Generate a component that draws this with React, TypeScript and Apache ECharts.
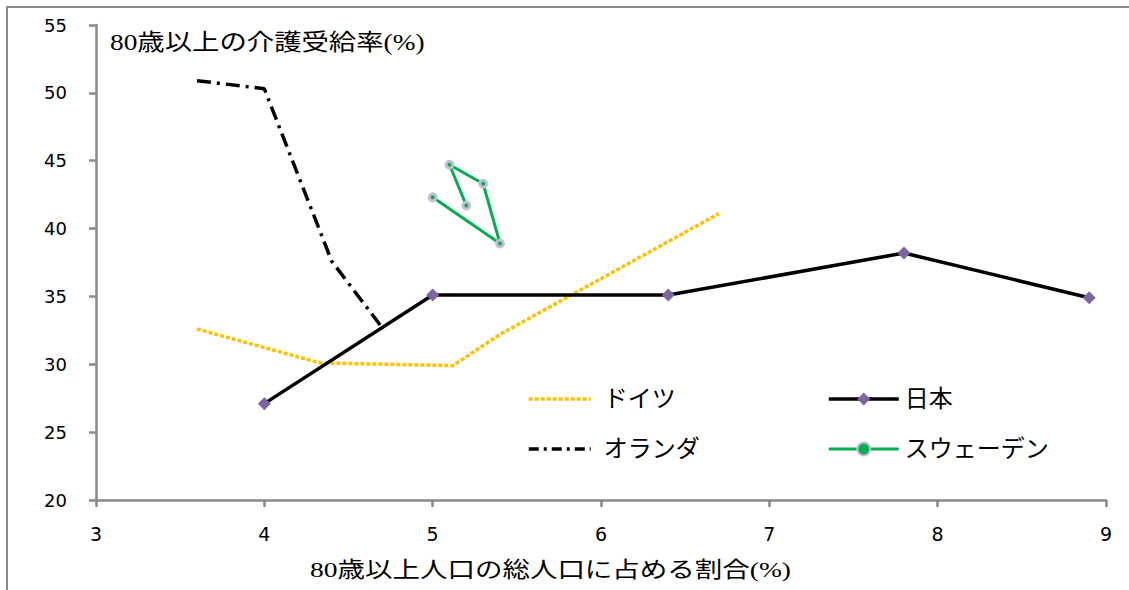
import React, { useEffect, useRef } from "react";
import * as echarts from "echarts";

const seriesNames = ["ドイツ", "日本", "オランダ", "スウェーデン"];
const germanyX = [3.6, 4.33, 5.12, 5.4, 6.7];
const germanyY = [32.6, 30.1, 29.9, 32.2, 41.1];
const japanX = [4.0, 5.0, 6.4, 7.8, 8.9];
const japanY = [27.1, 35.1, 35.1, 38.2, 34.9];
const netherlandsX = [3.6, 4.0, 4.4, 4.7];
const netherlandsY = [50.9, 50.3, 37.6, 32.7];
const swedenX = [5.0, 5.4, 5.3, 5.1, 5.2];
const swedenY = [42.3, 38.9, 43.3, 44.7, 41.7];

const xMin = 3;
const xMax = 9;
const xStep = 1;
const yMin = 20;
const yMax = 55;
const yStep = 5;

const yTitle = "80歳以上の介護受給率(%)";
const xTitle = "80歳以上人口の総人口に占める割合(%)";

const pairs = (xs: number[], ys: number[]) => xs.map((x, i) => [x, ys[i]]);

const JP_FONT = "'Liberation Serif', 'Noto Sans CJK JP', serif";
const NUM_FONT = "'DejaVu Sans', sans-serif";
const AXIS_GRAY = "#898989";

const YELLOW = "#FFC000";
const GREEN = "#00B050";
const PURPLE = "#8064A2";
const LAVENDER = "#C4BED6";

export default function App() {
  const ref = useRef<HTMLDivElement>(null);
  useEffect(() => {
    document.body.style.margin = "0";
    if (!ref.current) return;
    const chart = echarts.init(ref.current, null, { renderer: "svg" });
    const axisCommon = {
      axisLine: { show: true, lineStyle: { color: AXIS_GRAY, width: 2.5 } },
      axisTick: { show: true, length: 7, lineStyle: { color: AXIS_GRAY, width: 2.5 } },
      splitLine: { show: false },
    };
    const legendText = { fontSize: 24, fontFamily: JP_FONT, color: "#000" };
    chart.setOption({
      animation: false,
      backgroundColor: "#ffffff",
      grid: { left: 96, right: 23, top: 25, bottom: 90, containLabel: false },
      xAxis: {
        type: "value",
        min: xMin,
        max: xMax,
        interval: xStep,
        ...axisCommon,
        axisLabel: { color: "#000", fontSize: 19, fontFamily: NUM_FONT, margin: 24 },
      },
      yAxis: {
        type: "value",
        min: yMin,
        max: yMax,
        interval: yStep,
        ...axisCommon,
        axisLabel: { color: "#000", fontSize: 18, fontFamily: NUM_FONT, margin: 29 },
      },
      legend: [
        {
          data: [
            {
              name: seriesNames[0],
              itemStyle: { opacity: 0 },
              lineStyle: { width: 3.5, color: YELLOW, type: [4, 2] },
            },
            {
              name: seriesNames[2],
              itemStyle: { opacity: 0 },
              lineStyle: { width: 3.5, color: "#000", type: [10, 5, 3, 5] },
            },
          ],
          orient: "vertical",
          left: 522,
          top: 382,
          itemWidth: 62,
          itemHeight: 14,
          itemGap: 26,
          textStyle: { ...legendText, padding: [0, 0, 0, 8] },
        },
        {
          data: [
            { name: seriesNames[1], lineStyle: { width: 3.5, color: "#000" } },
            { name: seriesNames[3], lineStyle: { width: 3, color: GREEN } },
          ],
          orient: "vertical",
          left: 822,
          top: 382,
          itemWidth: 70,
          itemHeight: 16,
          itemGap: 26,
          textStyle: { ...legendText, padding: [0, 0, 0, 1] },
        },
      ],
      graphic: [
        {
          type: "rect",
          shape: { x: 7, y: 7, width: 1150, height: 620 },
          style: { fill: "none", stroke: AXIS_GRAY, lineWidth: 2 },
          silent: true,
        },
        {
          type: "text",
          x: 110,
          y: 42,
          scaleX: 1.19,
          style: {
            text: yTitle,
            fontSize: 23,
            fontFamily: JP_FONT,
            fill: "#000",
            verticalAlign: "middle",
            align: "left",
          },
        },
        {
          type: "text",
          x: 310,
          y: 569,
          scaleX: 1.25,
          style: {
            text: xTitle,
            fontSize: 22,
            fontFamily: JP_FONT,
            fill: "#000",
            verticalAlign: "middle",
            align: "left",
          },
        },
      ],
      series: [
        {
          name: seriesNames[0],
          type: "line",
          data: pairs(germanyX, germanyY),
          symbol: "none",
          lineStyle: { color: YELLOW, width: 3.5, type: [4, 2] },
          itemStyle: { color: YELLOW },
          z: 2,
        },
        {
          name: seriesNames[1],
          type: "line",
          data: pairs(japanX, japanY),
          symbol: "diamond",
          symbolSize: 13,
          lineStyle: { color: "#000000", width: 3.5 },
          itemStyle: { color: PURPLE },
          z: 3,
        },
        {
          name: seriesNames[2],
          type: "line",
          data: pairs(netherlandsX, netherlandsY),
          symbol: "none",
          lineStyle: { color: "#000000", width: 3.5, type: [14, 6, 3, 6] },
          itemStyle: { color: "#000000" },
          z: 2,
        },
        {
          name: seriesNames[3],
          type: "line",
          data: pairs(swedenX, swedenY),
          symbol: "circle",
          symbolSize: 7,
          lineStyle: { color: GREEN, width: 3 },
          itemStyle: { color: GREEN, borderColor: LAVENDER, borderWidth: 3 },
          z: 3,
        },
      ],
    });
    return () => chart.dispose();
  }, []);
  return <div ref={ref} style={{ width: 1129, height: 590 }} />;
}
